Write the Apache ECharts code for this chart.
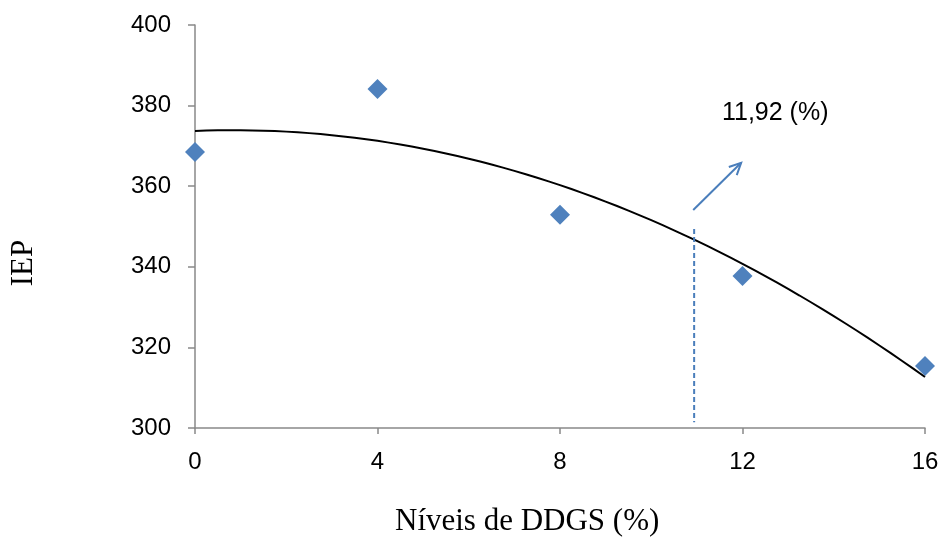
<!DOCTYPE html>
<html>
<head>
<meta charset="utf-8">
<script src="https://cdn.jsdelivr.net/npm/echarts@6/dist/echarts.min.js"></script>
<style>
  html, body { margin: 0; padding: 0; background: #fff; }
  #chart { width: 942px; height: 543px; }
</style>
</head>
<body>
<div id="chart"></div>
<script>
// Observed IEP by DDGS inclusion level
const levels = [0, 4, 8, 12, 16];
const iep = [368.5, 384.1, 352.9, 337.7, 315.4];

// Reference line marking the optimum level, and its annotation
const optimumLine = [[10.94, 349.4], [10.94, 301.4]];
const arrowPoints = [[10.92, 354.1], [11.97, 365.8]];
const optimumText = '11,92 (%)';
const optimumTextAt = [11.55, 378.2];

const xTitle = 'Níveis de DDGS (%)';
const yTitle = 'IEP';

// Quadratic least-squares trend line fitted to the observed points
function quadFit(xs, ys) {
  const n = xs.length;
  let s = [0, 0, 0, 0, 0], t = [0, 0, 0];
  for (let i = 0; i < n; i++) {
    const x = xs[i], y = ys[i];
    for (let k = 0; k < 5; k++) s[k] += Math.pow(x, k);
    for (let k = 0; k < 3; k++) t[k] += y * Math.pow(x, k);
  }
  const A = [[s[0], s[1], s[2], t[0]], [s[1], s[2], s[3], t[1]], [s[2], s[3], s[4], t[2]]];
  for (let c = 0; c < 3; c++) {
    for (let r = c + 1; r < 3; r++) {
      const f = A[r][c] / A[c][c];
      for (let k = c; k < 4; k++) A[r][k] -= f * A[c][k];
    }
  }
  const b = [0, 0, 0];
  for (let r = 2; r >= 0; r--) {
    let v = A[r][3];
    for (let k = r + 1; k < 3; k++) v -= A[r][k] * b[k];
    b[r] = v / A[r][r];
  }
  return b;
}
const coef = quadFit(levels, iep);
const trend = [];
for (let i = 0; i <= 64; i++) {
  const x = i / 4;
  trend.push([x, coef[0] + coef[1] * x + coef[2] * x * x]);
}

const axisGrey = '#898989';
const blue = '#4F81BD';

const chart = echarts.init(document.getElementById('chart'));
chart.setOption({
  animation: false,
  grid: { left: 195, right: 17, top: 25, bottom: 115, containLabel: false, outerBoundsMode: 'none' },
  graphic: [
    {
      type: 'text', left: 530 - 135, top: 506,
      style: { text: xTitle, font: '31px "Liberation Serif"', fill: '#000' }
    },
    {
      type: 'text', x: 24, y: 263, rotation: Math.PI / 2,
      style: { text: yTitle, font: '31px "Liberation Serif"', fill: '#000', textAlign: 'center', textVerticalAlign: 'middle' }
    }
  ],
  xAxis: {
    type: 'value', min: 0, max: 16, interval: 4,
    axisLine: { onZero: false, lineStyle: { color: axisGrey, width: 1.5 } },
    axisTick: { length: 6, lineStyle: { color: axisGrey, width: 1.5 } },
    axisLabel: { margin: 22, fontFamily: 'Liberation Sans', fontSize: 24, color: '#000' },
    splitLine: { show: false }
  },
  yAxis: {
    type: 'value', min: 300, max: 400, interval: 20,
    axisLine: { show: true, lineStyle: { color: axisGrey, width: 1.5 } },
    axisTick: { show: true, length: 7, lineStyle: { color: axisGrey, width: 1.5 } },
    axisLabel: { margin: 24, fontFamily: 'Liberation Sans', fontSize: 24, color: '#000' },
    splitLine: { show: false }
  },
  series: [
    {
      type: 'scatter',
      data: levels.map((x, i) => [x, iep[i]]),
      symbol: 'diamond', symbolSize: 20,
      itemStyle: { color: blue, opacity: 1 },
      z: 2
    },
    {
      type: 'line',
      data: trend,
      showSymbol: false, smooth: false,
      lineStyle: { color: '#000', width: 2 },
      z: 3
    },
    {
      type: 'line',
      data: optimumLine,
      showSymbol: false,
      lineStyle: { color: '#4A7EBB', width: 2, type: [5, 3] },
      z: 3
    },
    {
      type: 'custom',
      data: [0],
      renderItem: function (params, api) {
        const p0 = api.coord(arrowPoints[0]);
        const p1 = api.coord(arrowPoints[1]);
        const ang = Math.atan2(p1[1] - p0[1], p1[0] - p0[0]);
        const len = 13, spread = Math.PI / 7;
        const h1 = [p1[0] - len * Math.cos(ang - spread), p1[1] - len * Math.sin(ang - spread)];
        const h2 = [p1[0] - len * Math.cos(ang + spread), p1[1] - len * Math.sin(ang + spread)];
        const tp = api.coord(optimumTextAt);
        const stroke = { stroke: '#4A7EBB', lineWidth: 2, fill: null };
        return {
          type: 'group',
          children: [
            { type: 'line', shape: { x1: p0[0], y1: p0[1], x2: p1[0], y2: p1[1] }, style: stroke },
            { type: 'polyline', shape: { points: [h1, p1, h2] }, style: stroke },
            {
              type: 'text', x: tp[0], y: tp[1],
              style: {
                text: optimumText, fill: '#000',
                font: '25px "Liberation Sans"',
                textAlign: 'left', textVerticalAlign: 'middle'
              }
            }
          ]
        };
      },
      z: 4
    }
  ]
});
</script>
</body>
</html>
